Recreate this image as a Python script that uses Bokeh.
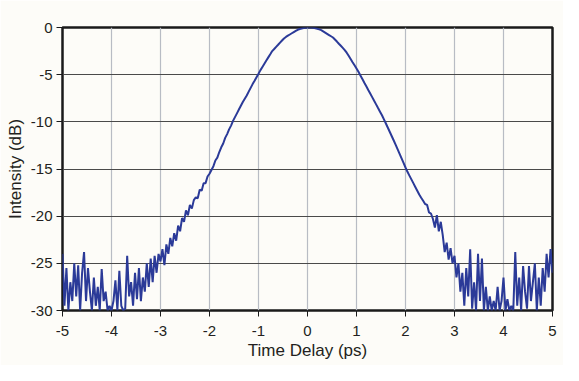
import numpy as np
from bokeh.plotting import figure
from bokeh.models import Range1d, FixedTicker
from bokeh.embed import file_html
from bokeh.resources import INLINE

# ---- data ----
time_delay = np.round(np.arange(-5.0, 5.0001, 0.04), 2)   # ps sampling grid
intensity_db = [
    # -5.00 .. -4.04
    -24.0, -29.5, -25.5, -30.0, -27.0, -29.0, -25.0, -28.5, -25.2, -30.0, -26.0, -23.8, -29.0,
    -25.5, -28.0, -30.0, -26.5, -29.5, -27.5, -30.0, -25.6, -29.0, -28.0, -30.0, -29.5,
    # -4.00 .. -3.04
    -30.0, -29.0, -26.8, -30.0, -25.8, -29.5, -30.0, -29.8, -24.2, -28.5, -27.0, -29.5, -26.0,
    -28.8, -25.5, -29.0, -26.5, -28.0, -25.0, -27.5, -24.5, -27.0, -24.2, -26.0, -24.0,
    # -3.00 .. -2.04
    -24.8, -23.5, -25.2, -23.0, -24.0, -22.3, -23.2, -21.8, -22.6, -21.0, -21.6, -20.2, -20.6,
    -19.4, -19.9, -18.8, -19.2, -18.3, -18.0, -18.1, -17.2, -17.3, -16.5, -16.5, -15.8,
    # -2.00 .. -1.04
    -15.5, -15.1, -14.7, -14.1, -13.8, -13.2, -12.7, -12.3, -11.7, -11.3, -10.8, -10.4, -9.9,
    -9.5, -9.1, -8.7, -8.3, -7.9, -7.55, -7.2, -6.8, -6.4, -6.0, -5.65, -5.27,
    # -1.00 .. -0.04
    -4.9, -4.52, -4.18, -3.84, -3.5, -3.17, -2.84, -2.5, -2.28, -2.05, -1.83, -1.6, -1.38,
    -1.16, -1.0, -0.87, -0.74, -0.61, -0.48, -0.35, -0.24, -0.16, -0.1, -0.05, -0.02,
    # 0.00 .. 0.96
    0.0, 0.0, -0.01, -0.04, -0.08, -0.13, -0.2, -0.28, -0.41, -0.54, -0.67, -0.8, -0.93,
    -1.06, -1.27, -1.49, -1.72, -1.94, -2.16, -2.39, -2.67, -3.0, -3.34, -3.68, -4.01,
    # 1.00 .. 1.96
    -4.35, -4.7, -5.08, -5.46, -5.85, -6.23, -6.62, -7.0, -7.38, -7.77, -8.15, -8.54, -8.92,
    -9.3, -9.74, -10.18, -10.63, -11.08, -11.53, -11.98, -12.44, -12.92, -13.4, -13.88, -14.36,
    # 2.00 .. 2.96
    -14.84, -15.3, -15.7, -16.1, -16.5, -16.9, -17.3, -17.7, -18.04, -18.37, -18.71, -18.8, -19.6,
    -19.72, -20.3, -21.2, -19.9, -21.6, -20.6, -22.0, -23.8, -22.8, -24.6, -23.4, -25.0,
    # 3.00 .. 3.96
    -24.2, -26.5, -25.0, -28.0, -26.0, -29.5, -25.5, -28.5, -23.5, -29.8, -27.0, -30.0, -24.0,
    -29.0, -24.5, -30.0, -27.5, -30.0, -28.5, -30.0, -29.0, -30.0, -27.5, -30.0, -29.0,
    # 4.00 .. 5.00
    -26.5, -30.0, -28.8, -30.0, -29.5, -30.0, -23.8, -29.5, -26.5, -30.0, -25.3, -28.0, -29.8,
    -25.3, -29.0, -27.0, -25.0, -30.0, -26.5, -29.5, -25.5, -28.0, -24.0, -26.5, -23.5, -26.0,
]

x_ticks = [-5, -4, -3, -2, -1, 0, 1, 2, 3, 4, 5]
x_tick_labels = ["-5", "-4", "-3", "-2", "-1", "0", "1", "2", "3", "4", "5"]
y_ticks = [-30, -25, -20, -15, -10, -5, 0]
y_tick_labels = ["-30", "-25", "-20", "-15", "-10", "-5", "0"]

# ---- figure ----
BG = "#fdfcf8"
FONT = "Liberation Sans"
TXT = "#231f20"

p = figure(width=563, height=365, output_backend="svg", toolbar_location=None,
           x_range=Range1d(-5, 5), y_range=Range1d(-30, 0),
           min_border_left=62, min_border_right=11, min_border_top=27, min_border_bottom=55)
p.background_fill_color = BG
p.border_fill_color = BG
p.outline_line_color = "#1a1a1a"
p.outline_line_width = 2.5

p.line(time_delay, intensity_db, line_color="#2b3a98", line_width=2.0)

p.xaxis.ticker = FixedTicker(ticks=x_ticks)
p.yaxis.ticker = FixedTicker(ticks=y_ticks)
p.xaxis.major_label_overrides = dict(zip(x_ticks, x_tick_labels))
p.yaxis.major_label_overrides = dict(zip(y_ticks, y_tick_labels))

p.xaxis.axis_label = "Time Delay (ps)"
p.yaxis.axis_label = "Intensity (dB)"

for ax in (p.xaxis, p.yaxis):
    ax.axis_line_color = None
    ax.major_tick_line_color = "#1a1a1a"
    ax.major_tick_line_width = 1
    ax.major_tick_out = 6
    ax.major_tick_in = 0
    ax.minor_tick_line_color = None
    ax.major_label_text_font = FONT
    ax.major_label_text_font_size = "15px"
    ax.major_label_text_color = TXT
    ax.axis_label_text_font = FONT
    ax.axis_label_text_font_size = "17px"
    ax.axis_label_text_font_style = "normal"
    ax.axis_label_text_color = TXT

p.xaxis.major_label_standoff = 9
p.xaxis.axis_label_standoff = 2
p.yaxis.major_label_standoff = 4
p.yaxis.axis_label_standoff = 3

p.xgrid.grid_line_color = "#b8bcc4"
p.xgrid.grid_line_width = 1.2
p.ygrid.grid_line_color = "#4a4a4a"
p.ygrid.grid_line_width = 1

open("out.html", "w").write(file_html(p, INLINE))
